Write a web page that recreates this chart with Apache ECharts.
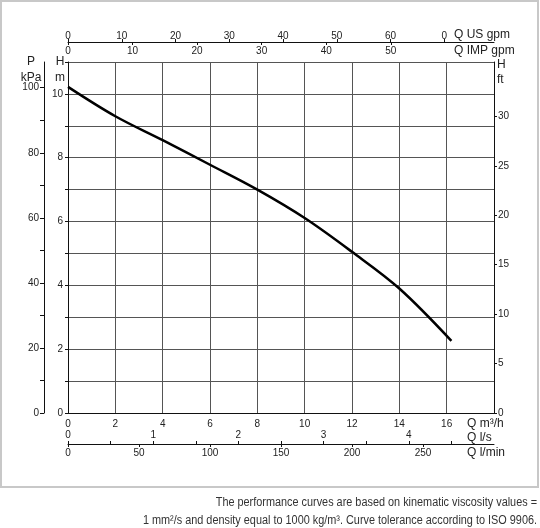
<!DOCTYPE html>
<html>
<head>
<meta charset="utf-8">
<script src="https://cdn.jsdelivr.net/npm/echarts@6/dist/echarts.min.js"></script>
<style>
  html, body { margin: 0; padding: 0; background: #fff; }
  #chart { width: 540px; height: 528px; }
</style>
</head>
<body>
<div id="chart"></div>
<script>
// pump curve (Q in m3/h, H in m)
const flowQ = [0, 2, 4, 6, 8, 10, 12, 14, 16.2];
const headH = [10.22, 9.3, 8.55, 7.78, 7.0, 6.11, 5.05, 3.9, 2.26];

// tick labels
const m3hLabels = [0, 2, 4, 6, 8, 10, 12, 14, 16];
const usGpmLabels = [0, 10, 20, 30, 40, 50, 60, 70];
const impGpmLabels = [0, 10, 20, 30, 40, 50];
const lsLabels = [0, 1, 2, 3, 4];
const lsTicks = [0, 0.5, 1, 1.5, 2, 2.5, 3, 3.5, 4, 4.5];
const lminLabels = [0, 50, 100, 150, 200, 250];
const hmLabels = [0, 2, 4, 6, 8, 10];
const hmTicks = [0, 1, 2, 3, 4, 5, 6, 7, 8, 9, 10, 11];
const kpaLabels = [0, 20, 40, 60, 80, 100];
const kpaTicks = [0, 10, 20, 30, 40, 50, 60, 70, 80, 90, 100];
const ftLabels = [0, 5, 10, 15, 20, 25, 30];

const Q_MAX = 18;
const H_MAX = 11;

const chart = echarts.init(document.getElementById('chart'));
const font = '"Liberation Sans", Arial, sans-serif';
const txt = '#222';
const black = { onZero: false, lineStyle: { color: '#111', width: 1 } };
const lbl = { color: txt, fontSize: 10, fontFamily: font };

const unit = (x, y, text, align) => ({
  type: 'text', x: x, y: y, silent: true,
  style: { text: text, fill: txt, font: '12px ' + font, align: align || 'left', verticalAlign: 'middle' }
});
const note = (y, text) => ({
  type: 'text', x: 537, y: y, scaleX: 0.87, silent: true,
  style: { text: text, fill: '#333', font: '12.5px ' + font, align: 'right', verticalAlign: 'middle' }
});

chart.setOption({
  animation: false,
  grid: { left: 68, right: 46, top: 62, bottom: 115, containLabel: false },
  xAxis: [
    { // Q m3/h
      type: 'value', position: 'bottom', min: 0, max: Q_MAX, interval: 2,
      axisLine: black, axisTick: { show: false },
      axisLabel: Object.assign({ margin: 6, customValues: m3hLabels }, lbl),
      splitLine: { show: true, lineStyle: { color: '#555', width: 1 } }
    },
    { // Q US gpm
      type: 'value', position: 'top', offset: 20, min: 0, max: Q_MAX * 4.4029,
      axisLine: black,
      axisTick: { length: 3, customValues: usGpmLabels, lineStyle: { color: '#111' } },
      axisLabel: Object.assign({ margin: 1, customValues: usGpmLabels,
        formatter: v => v === 70 ? '0' : String(v) }, lbl),
      splitLine: { show: false }
    },
    { // Q IMP gpm
      type: 'value', position: 'top', offset: 20, min: 0, max: Q_MAX * 3.6661,
      axisLine: { show: false, onZero: false },
      axisTick: { inside: true, length: 3, customValues: impGpmLabels, lineStyle: { color: '#111' } },
      axisLabel: Object.assign({ inside: true, margin: 4, customValues: impGpmLabels }, lbl),
      splitLine: { show: false }
    },
    { // Q l/s
      type: 'value', position: 'bottom', offset: 31, min: 0, max: Q_MAX / 3.6,
      axisLine: black,
      axisTick: { inside: true, length: 3, customValues: lsTicks, lineStyle: { color: '#111' } },
      axisLabel: Object.assign({ inside: true, margin: 4, customValues: lsLabels }, lbl),
      splitLine: { show: false }
    },
    { // Q l/min
      type: 'value', position: 'bottom', offset: 31, min: 0, max: Q_MAX * 1000 / 60,
      axisLine: { show: false, onZero: false },
      axisTick: { length: 3, customValues: lminLabels, lineStyle: { color: '#111' } },
      axisLabel: Object.assign({ margin: 4, customValues: lminLabels }, lbl),
      splitLine: { show: false }
    }
  ],
  yAxis: [
    { // H m
      type: 'value', position: 'left', min: 0, max: H_MAX, interval: 1,
      axisLine: black,
      axisTick: { length: 3, customValues: hmTicks, lineStyle: { color: '#111' } },
      axisLabel: Object.assign({ margin: 5, customValues: hmLabels }, lbl),
      splitLine: { show: true, lineStyle: { color: '#555', width: 1 } }
    },
    { // P kPa
      type: 'value', position: 'left', offset: 24, min: 0, max: H_MAX * 9.81,
      axisLine: black,
      axisTick: { length: 4, customValues: kpaTicks, lineStyle: { color: '#111' } },
      axisLabel: Object.assign({ margin: 5, customValues: kpaLabels }, lbl),
      splitLine: { show: false }
    },
    { // H ft
      type: 'value', position: 'right', min: 0, max: 35.5,
      axisLine: black,
      axisTick: { length: 3, customValues: ftLabels, lineStyle: { color: '#111' } },
      axisLabel: Object.assign({ margin: 4, customValues: ftLabels }, lbl),
      splitLine: { show: false }
    }
  ],
  series: [{
    type: 'line', xAxisIndex: 0, yAxisIndex: 0,
    data: flowQ.map((q, i) => [q, headH[i]]),
    smooth: 0.35, symbol: 'none',
    lineStyle: { color: '#000', width: 2.5 }
  }],
  graphic: [
    { type: 'rect', silent: true, shape: { x: 1, y: 1, width: 537, height: 486 },
      style: { fill: 'none', stroke: '#c8c8c8', lineWidth: 2 } },
    unit(454, 35, 'Q US gpm'),
    unit(454, 51, 'Q IMP gpm'),
    unit(31, 62, 'P', 'center'),
    unit(31, 78, 'kPa', 'center'),
    unit(60, 62, 'H', 'center'),
    unit(60, 78, 'm', 'center'),
    unit(497, 65, 'H'),
    unit(497, 80, 'ft'),
    unit(467, 424, 'Q m³/h'),
    unit(467, 438, 'Q l/s'),
    unit(467, 453, 'Q l/min'),
    note(503, 'The performance curves are based on kinematic viscosity values ='),
    note(521, '1 mm²/s and density equal to 1000 kg/m³. Curve tolerance according to ISO 9906.')
  ]
});
</script>
</body>
</html>
